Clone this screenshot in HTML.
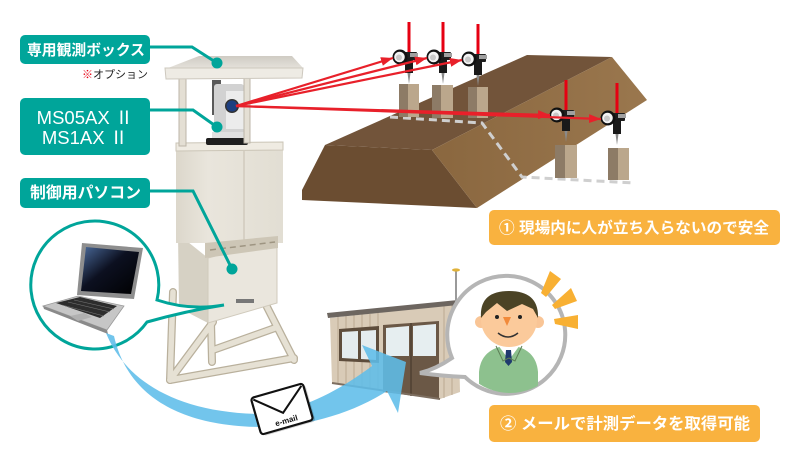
<!DOCTYPE html>
<html><head><meta charset="utf-8">
<style>
html,body{margin:0;padding:0;background:#fff;}
svg{display:block;}
text{font-family:"Liberation Sans","Noto Sans CJK JP",sans-serif;}
</style></head><body>
<svg width="800" height="460" viewBox="0 0 800 460" xmlns="http://www.w3.org/2000/svg">
<defs>
 <linearGradient id="scr" x1="0" y1="0" x2="1" y2="1">
  <stop offset="0" stop-color="#4a6a9a"/><stop offset="0.45" stop-color="#0c1020"/><stop offset="1" stop-color="#000"/>
 </linearGradient>
 <linearGradient id="roof" x1="0" y1="0" x2="0" y2="1">
  <stop offset="0" stop-color="#cfcbc3"/><stop offset="1" stop-color="#e4e1da"/>
 </linearGradient>
 <linearGradient id="cab" x1="0" y1="0" x2="1" y2="0">
  <stop offset="0" stop-color="#dcd7cb"/><stop offset="0.3" stop-color="#e9e5dc"/><stop offset="1" stop-color="#e2ded3"/>
 </linearGradient>
 <linearGradient id="slope" x1="0" y1="0" x2="1" y2="0">
  <stop offset="0" stop-color="#8a673f"/><stop offset="1" stop-color="#9a774e"/>
 </linearGradient>
 <marker id="ah" markerUnits="userSpaceOnUse" markerWidth="13" markerHeight="10" refX="12" refY="4.5" orient="auto">
  <path d="M0,0 L12,4.5 L0,9 z" fill="#e8202a"/>
 </marker>
 <g id="tgt">
  <rect x="7.5" y="-35" width="3" height="31" fill="#e60012"/>
  <rect x="2" y="-5" width="15" height="8" rx="1" fill="#1e1e1e"/>
  <rect x="10" y="-4" width="8" height="4" fill="#a0a0a0"/>
  <rect x="5" y="1" width="8" height="15" fill="#1a1a1a"/>
  <polygon points="7.5,16 10.5,16 9,27" fill="#8a8a8a"/>
  <circle cx="0" cy="0" r="7.5" fill="#111"/>
  <circle cx="-0.5" cy="0" r="5.3" fill="#f2f2f2"/>
  <circle cx="-1" cy="0.5" r="3" fill="#c8c8c8"/>
 </g>
 <clipPath id="bub"><circle cx="510" cy="336" r="57"/></clipPath>
</defs>

<!-- Embankment -->
<polygon points="302,190 325,145 432,150 477,208 302,200" fill="#6b4d31"/>
<polygon points="325,145 527,55 612,57 432,150" fill="#72543a"/>
<polygon points="432,150 612,57 647,100 477,208" fill="url(#slope)"/>
<polyline points="390,117 482,123 522,177 635,183" fill="none" stroke="#cfcfcf" stroke-width="3" stroke-dasharray="8,5"/>

<!-- pillars -->
<g>
 <rect x="399" y="84" width="9" height="33" fill="#8d7b66"/><rect x="408" y="84" width="11" height="33" fill="#bba78c"/>
 <rect x="432" y="85" width="9" height="33" fill="#8d7b66"/><rect x="441" y="85" width="12" height="33" fill="#bba78c"/>
 <rect x="468" y="87" width="9" height="31" fill="#8d7b66"/><rect x="477" y="87" width="11" height="31" fill="#bba78c"/>
 <rect x="555" y="145" width="10" height="33" fill="#8d7b66"/><rect x="565" y="145" width="12" height="33" fill="#bba78c"/>
 <rect x="608" y="148" width="10" height="32" fill="#8d7b66"/><rect x="618" y="148" width="11" height="32" fill="#bba78c"/>
</g>
<use href="#tgt" x="400" y="57"/>
<use href="#tgt" x="434" y="57"/>
<use href="#tgt" x="469" y="59"/>
<use href="#tgt" x="557" y="115"/>
<use href="#tgt" x="608" y="118"/>

<!-- Tower stand -->
<g stroke-linecap="round">
 <g stroke="#b9b09c" stroke-width="8">
  <line x1="173" y1="292" x2="170" y2="380"/>
  <line x1="170" y1="380" x2="294" y2="358"/>
  <line x1="170" y1="380" x2="213" y2="322"/>
  <line x1="265" y1="303" x2="294" y2="360"/>
  <line x1="211" y1="322" x2="212" y2="362"/>
  <line x1="213" y1="350" x2="275" y2="328"/>
 </g>
 <g stroke="#e6e1d4" stroke-width="5.5">
  <line x1="173" y1="292" x2="170" y2="380"/>
  <line x1="170" y1="380" x2="294" y2="358"/>
  <line x1="170" y1="380" x2="213" y2="322"/>
  <line x1="265" y1="303" x2="294" y2="360"/>
  <line x1="211" y1="322" x2="212" y2="362"/>
  <line x1="213" y1="350" x2="275" y2="328"/>
 </g>
</g>

<!-- lower cabinet -->
<polygon points="178,234 208,258 208,323 179,308" fill="#d6d1c4"/>
<polygon points="208,258 277,240 277,303 208,323" fill="#eae6dd" stroke="#d0cabc" stroke-width="1"/>
<rect x="236" y="299" width="18" height="4" fill="#777"/>
<!-- upper cabinet -->
<rect x="176" y="150" width="107" height="93" fill="url(#cab)"/>
<polygon points="176,143 283,142 283,150 176,151" fill="#efebe2" stroke="#cbc5b7" stroke-width="1"/>
<line x1="244" y1="151" x2="244" y2="243" stroke="#cbc5b8" stroke-width="1.2"/>
<polygon points="205,243 278,236 278,248 205,258" fill="#cdc6b6"/>
<line x1="210" y1="250" x2="275" y2="242" stroke="#9e9582" stroke-width="1.5" stroke-dasharray="6,4"/>

<!-- instrument -->
<rect x="212" y="80" width="9" height="35" fill="#5a5a5a"/>
<rect x="214" y="84" width="30" height="50" rx="3" fill="#d2d2d2"/>
<rect x="226" y="91" width="18" height="38" fill="#ececec"/>
<circle cx="232" cy="106" r="7" fill="#333"/>
<circle cx="232" cy="106" r="5.5" fill="#1e3f80"/>
<rect x="212" y="132" width="33" height="6" fill="#e0e0e0"/>
<rect x="206" y="138" width="42" height="7" rx="2" fill="#1f1f1f"/>

<!-- roof and posts -->
<rect x="179" y="78" width="7" height="68" fill="#e4dfd4" stroke="#bdb6a8" stroke-width="1"/>
<rect x="244" y="77" width="6" height="66" fill="#e4dfd4" stroke="#bdb6a8" stroke-width="1"/>
<polygon points="168,68 199,56 292,56 303,68" fill="url(#roof)"/>
<polygon points="165,68 303,68 302,78 166,79" fill="#eeebe4" stroke="#cdc8be" stroke-width="1"/>

<!-- red rays -->
<g stroke="#e8202a" stroke-width="2.2" fill="none" marker-end="url(#ah)">
 <line x1="236" y1="106" x2="393" y2="58"/>
 <line x1="236" y1="106" x2="427" y2="58"/>
 <line x1="236" y1="106" x2="462" y2="60"/>
 <line x1="236" y1="106" x2="550" y2="115"/>
 <line x1="236" y1="106" x2="601" y2="119"/>
</g>

<!-- teal labels -->
<g fill="#00a59a">
 <rect x="20" y="35" width="130" height="29" rx="5"/>
 <rect x="20" y="98" width="130" height="57" rx="5"/>
 <rect x="20" y="178" width="130" height="30" rx="5"/>
</g>
<g fill="none" stroke="#00a59a" stroke-width="3">
 <polyline points="150,47 192,47 217,63"/>
 <polyline points="150,110 193,110 217,127"/>
 <polyline points="150,191 193,191 232,269"/>
</g>
<g fill="#00a59a">
 <circle cx="217" cy="63" r="5.5"/>
 <circle cx="217" cy="127" r="5.5"/>
 <circle cx="232" cy="269" r="5.5"/>
</g>
<text x="27" y="55" font-size="15" font-weight="700" fill="#fff" textLength="118" lengthAdjust="spacingAndGlyphs">専用観測ボックス</text>
<text x="85" y="124" font-size="18.5" fill="#fff" text-anchor="middle">MS05AX Ⅱ</text>
<text x="85" y="144" font-size="18.5" fill="#fff" text-anchor="middle">MS1AX Ⅱ</text>
<text x="30" y="198" font-size="16" font-weight="700" fill="#fff" textLength="111" lengthAdjust="spacingAndGlyphs">制御用パソコン</text>
<text x="82" y="78" font-size="11" fill="#222"><tspan fill="#e60012">※</tspan>オプション</text>

<!-- laptop bubble -->
<path d="M157,300 Q190,311 224,305 Q186,311 147,322 A64,64 0 1 1 157,300 Z" fill="#fff" stroke="#00a59a" stroke-width="3"/>
<!-- laptop -->
<polygon points="82,243 143,248 134,299 77,295" fill="#8e8e8e"/>
<polygon points="86,247 139,252 131,294 81,291" fill="url(#scr)"/>
<polygon points="43,306 78,296 124,306 107,330" fill="#c6c6c6" stroke="#9a9a9a" stroke-width="0.8"/>
<polygon points="43,306 107,330 108,334 44,309" fill="#8a8a8a"/>
<polygon points="56,303 80,297 117,306 100,318" fill="#2d2d2d"/>
<g stroke="#777" stroke-width="0.6">
 <line x1="62" y1="305" x2="104" y2="316"/>
 <line x1="68" y1="302" x2="110" y2="312"/>
 <line x1="74" y1="300" x2="114" y2="309"/>
</g>
<polygon points="70,316 84,313 92,317 78,321" fill="#b0b0b0"/>

<!-- building -->
<polygon points="330,318 458,304 460,392 440,399 332,383" fill="#d9cbb7"/>
<g stroke="#bba992" stroke-width="1">
 <line x1="338" y1="317" x2="338" y2="384"/><line x1="346" y1="316" x2="346" y2="385"/>
 <line x1="354" y1="315" x2="354" y2="386"/><line x1="362" y1="314" x2="362" y2="387"/>
 <line x1="370" y1="314" x2="370" y2="388"/><line x1="378" y1="313" x2="378" y2="390"/>
 <line x1="444" y1="306" x2="444" y2="398"/><line x1="452" y1="305" x2="452" y2="395"/>
</g>
<polygon points="327,313 458,300 458,305 328,318" fill="#6d6660"/>
<polygon points="339,329 379,326 379,363 339,361" fill="#5e4d3c"/>
<polygon points="342,332 358,331 358,359 342,358" fill="#e4ecee"/>
<polygon points="361,331 376,330 376,360 361,359" fill="#e4ecee"/>
<polygon points="383,325 439,321 439,399 383,392" fill="#6b5846"/>
<polygon points="386,328 409,326 409,356 386,356" fill="#e6eef0"/>
<polygon points="413,326 436,324 436,356 413,356" fill="#e6eef0"/>
<line x1="411" y1="323" x2="411" y2="396" stroke="#4f4032" stroke-width="1.5"/>
<line x1="332" y1="383" x2="440" y2="399" stroke="#7d6e60" stroke-width="2"/>
<line x1="456" y1="271" x2="456" y2="303" stroke="#9a9a9a" stroke-width="2"/>
<ellipse cx="456" cy="270" rx="4" ry="1.6" fill="#e0b23a"/>

<!-- blue arrow -->
<path d="M106,333 C125,380 175,412 258,414 C300,412 340,390 372,366 L362,345 L406,362 L398,413 L387,391 C350,415 300,428 258,427 C165,425 125,385 114,336 Z" fill="#5fbde9" fill-opacity="0.88"/>

<!-- envelope -->
<g transform="translate(282,409) rotate(-16)">
 <rect x="-25" y="-17" width="54" height="38" rx="3" fill="#000" fill-opacity="0.18"/>
 <rect x="-27" y="-19" width="54" height="38" rx="3" fill="#fff" stroke="#111" stroke-width="2.2"/>
 <polyline points="-25,-17 0,4 25,-17" fill="none" stroke="#111" stroke-width="2"/>
 <text x="1" y="15" font-size="8" font-weight="700" fill="#111" text-anchor="middle">e-mail</text>
</g>

<!-- gray bubble -->
<path d="M465,377 Q442,376 420,373 Q436,369 452,358 A59,59 0 1 1 465,377 Z" fill="#fff" stroke="#b5b5b5" stroke-width="4"/>
<!-- person -->
<g clip-path="url(#bub)">
 <rect x="503" y="338" width="12" height="12" fill="#f9c596"/>
 <path d="M479,400 L479,372 Q481,348 509,345 Q536,348 538,372 L538,400 Z" fill="#8dc18e"/>
 <polygon points="498,345 509,360 520,345" fill="#fff"/>
 <polygon points="506,350 511,350 512,362 508.5,366 505,362" fill="#1f3a6e"/>
 <polyline points="496,346 503,361 509,358" fill="none" stroke="#5c7d55" stroke-width="1"/>
 <polyline points="522,346 515,361 509,358" fill="none" stroke="#5c7d55" stroke-width="1"/>
</g>
<circle cx="481" cy="322" r="6" fill="#f9c596"/>
<circle cx="538" cy="322" r="6" fill="#f9c596"/>
<ellipse cx="509" cy="320" rx="28" ry="27" fill="#fbca9b"/>
<path d="M481,318 Q479,291 509,291 Q539,291 538,318 L533,309 L522,304 L507,311 L497,303 L486,312 Z" fill="#4b4325"/>
<circle cx="497" cy="317" r="2" fill="#222"/>
<circle cx="520" cy="317" r="2" fill="#222"/>
<polygon points="503,317 511,317 507,326" fill="#f28a3a"/>
<path d="M498,333 Q508,341 518,333" fill="none" stroke="#333" stroke-width="1.5"/>
<g fill="#f8b033">
 <polygon points="541,293 550,271 561,279 546,297"/>
 <polygon points="552,305 571,288 577,301 555,309"/>
 <polygon points="554,319 578,315 578,329 555,324"/>
</g>

<!-- orange labels -->
<rect x="489" y="210" width="291" height="35" rx="5" fill="#f9b23f"/>
<text x="499" y="233" font-size="15.5" font-weight="700" fill="#fff" textLength="270" lengthAdjust="spacingAndGlyphs">① 現場内に人が立ち入らないので安全</text>
<rect x="489" y="405" width="271" height="37" rx="5" fill="#f9b23f"/>
<text x="500" y="429" font-size="16" font-weight="700" fill="#fff" textLength="250" lengthAdjust="spacingAndGlyphs">② メールで計測データを取得可能</text>
</svg>
</body></html>
